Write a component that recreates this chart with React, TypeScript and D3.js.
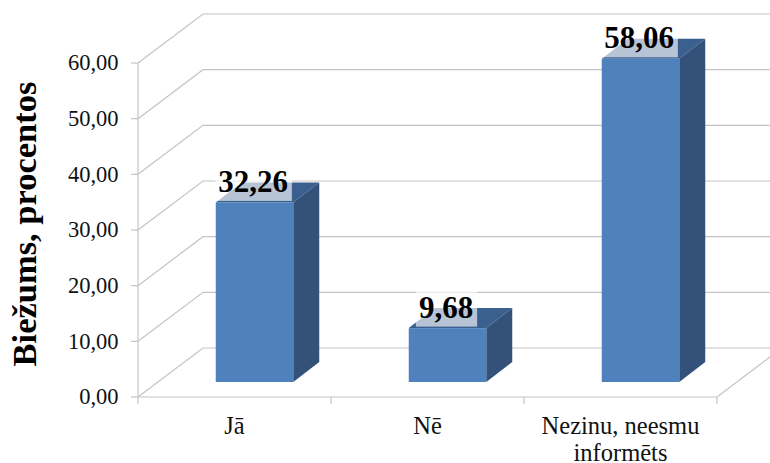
import React from "react";
import * as d3 from "d3";

const categories = ["Jā", "Nē", "Nezinu, neesmu informēts"];
const values = [32.26, 9.68, 58.06];
const valueLabels = ["32,26", "9,68", "58,06"];
const yTicks = [0, 10, 20, 30, 40, 50, 60];
const yTickLabels = ["0,00", "10,00", "20,00", "30,00", "40,00", "50,00", "60,00"];
const categoryLines = [["Jā"], ["Nē"], ["Nezinu, neesmu", "informēts"]];

const width = 770;
const height = 463;
const font = "'Liberation Serif', 'Times New Roman', serif";
const gridColor = "#c4c4c4";
const labelSize = 31;

// front plane of the 3d box
const x = d3.scaleBand<string>().domain(categories).range([138, 717]);
const y = d3.scaleLinear().domain([0, 60]).range([397, 63]);

// how far the back wall and the bars sit behind the front plane
const wallDx = 65;
const wallDy = -49;
const barShiftX = 20;
const barShiftY = -15;
const barDepthX = 26;
const barDepthY = -20;
const barWidth = 77.5;

const points = (p: number[][]) => p.map((d) => d.join(",")).join(" ");

// serif digits are half an em wide, the comma a quarter
const labelWidth = (s: string) => ((s.length - 1) * 0.5 + 0.25) * labelSize;

const App = () => {
  return (
    <svg
      width={width}
      height={height}
      style={{ position: "absolute", left: 0, top: 0, background: "#fff" }}
    >
      {/* grid: diagonal on the left wall, then straight along the back wall */}
      {yTicks.map((t) => (
        <g key={t} stroke={gridColor} strokeWidth={1.2} fill="none">
          <polyline
            points={points([
              [x.range()[0], y(t)],
              [x.range()[0] + wallDx, y(t) + wallDy],
              [width, y(t) + wallDy],
            ])}
          />
          <line x1={131} x2={138} y1={y(t)} y2={y(t)} />
        </g>
      ))}

      {/* axis lines and floor */}
      <g stroke={gridColor} strokeWidth={1.2} fill="none">
        <line x1={138} x2={138} y1={y(60)} y2={404} />
        <line x1={138} x2={717} y1={y(0)} y2={y(0)} />
        <line x1={717} x2={717 + wallDx} y1={y(0)} y2={y(0) + wallDy} />
        {categories.map((c) => (
          <line
            key={c}
            x1={x(c)! + x.bandwidth()}
            x2={x(c)! + x.bandwidth()}
            y1={y(0)}
            y2={404}
          />
        ))}
      </g>

      {/* bars */}
      {categories.map((c, i) => {
        const x0 = x(c)! + (x.bandwidth() - barWidth) / 2 + barShiftX;
        const x1 = x0 + barWidth;
        const yBase = y(0) + barShiftY;
        const yTop = y(values[i]) + barShiftY;
        return (
          <g key={c}>
            <polygon
              fill="#3b6090"
              points={points([
                [x0, yTop],
                [x1, yTop],
                [x1 + barDepthX, yTop + barDepthY],
                [x0 + barDepthX, yTop + barDepthY],
              ])}
            />
            <polygon
              fill="#335179"
              points={points([
                [x1, yTop],
                [x1 + barDepthX, yTop + barDepthY],
                [x1 + barDepthX, yBase + barDepthY],
                [x1, yBase],
              ])}
            />
            <rect x={x0} y={yTop} width={barWidth} height={yBase - yTop} fill="#4f81bd" />
          </g>
        );
      })}

      {/* value labels sit on a see-through white box */}
      {categories.map((c, i) => {
        const cx = x(c)! + x.bandwidth() / 2 + barShiftX - 1.5;
        const baseline = y(values[i]) + barShiftY - 10.5;
        const w = labelWidth(valueLabels[i]);
        return (
          <g key={c}>
            <rect
              x={cx - w / 2 - 3}
              y={baseline - 28}
              width={w + 7}
              height={37}
              fill="#fff"
              fillOpacity={0.63}
            />
            <text
              x={cx}
              y={baseline}
              textAnchor="middle"
              fontFamily={font}
              fontWeight="bold"
              fontSize={labelSize}
              fill="#000"
            >
              {valueLabels[i]}
            </text>
          </g>
        );
      })}

      {/* y tick labels */}
      {yTicks.map((t, i) => (
        <text
          key={t}
          x={118.5}
          y={y(t)}
          dy="0.33em"
          textAnchor="end"
          fontFamily={font}
          fontSize={22.5}
          fill="#111"
        >
          {yTickLabels[i]}
        </text>
      ))}

      {/* category labels */}
      {categories.map((c, i) => (
        <text
          key={c}
          textAnchor="middle"
          fontFamily={font}
          fontSize={24.5}
          fill="#111"
        >
          {categoryLines[i].map((line, j) => (
            <tspan key={line} x={x(c)! + x.bandwidth() / 2} y={434 + j * 27}>
              {line}
            </tspan>
          ))}
        </text>
      ))}

      <text
        transform="translate(36,224) rotate(-90)"
        textAnchor="middle"
        fontFamily={font}
        fontWeight="bold"
        fontSize={34.5}
        fill="#000"
      >
        Biežums, procentos
      </text>
    </svg>
  );
};

export default App;
